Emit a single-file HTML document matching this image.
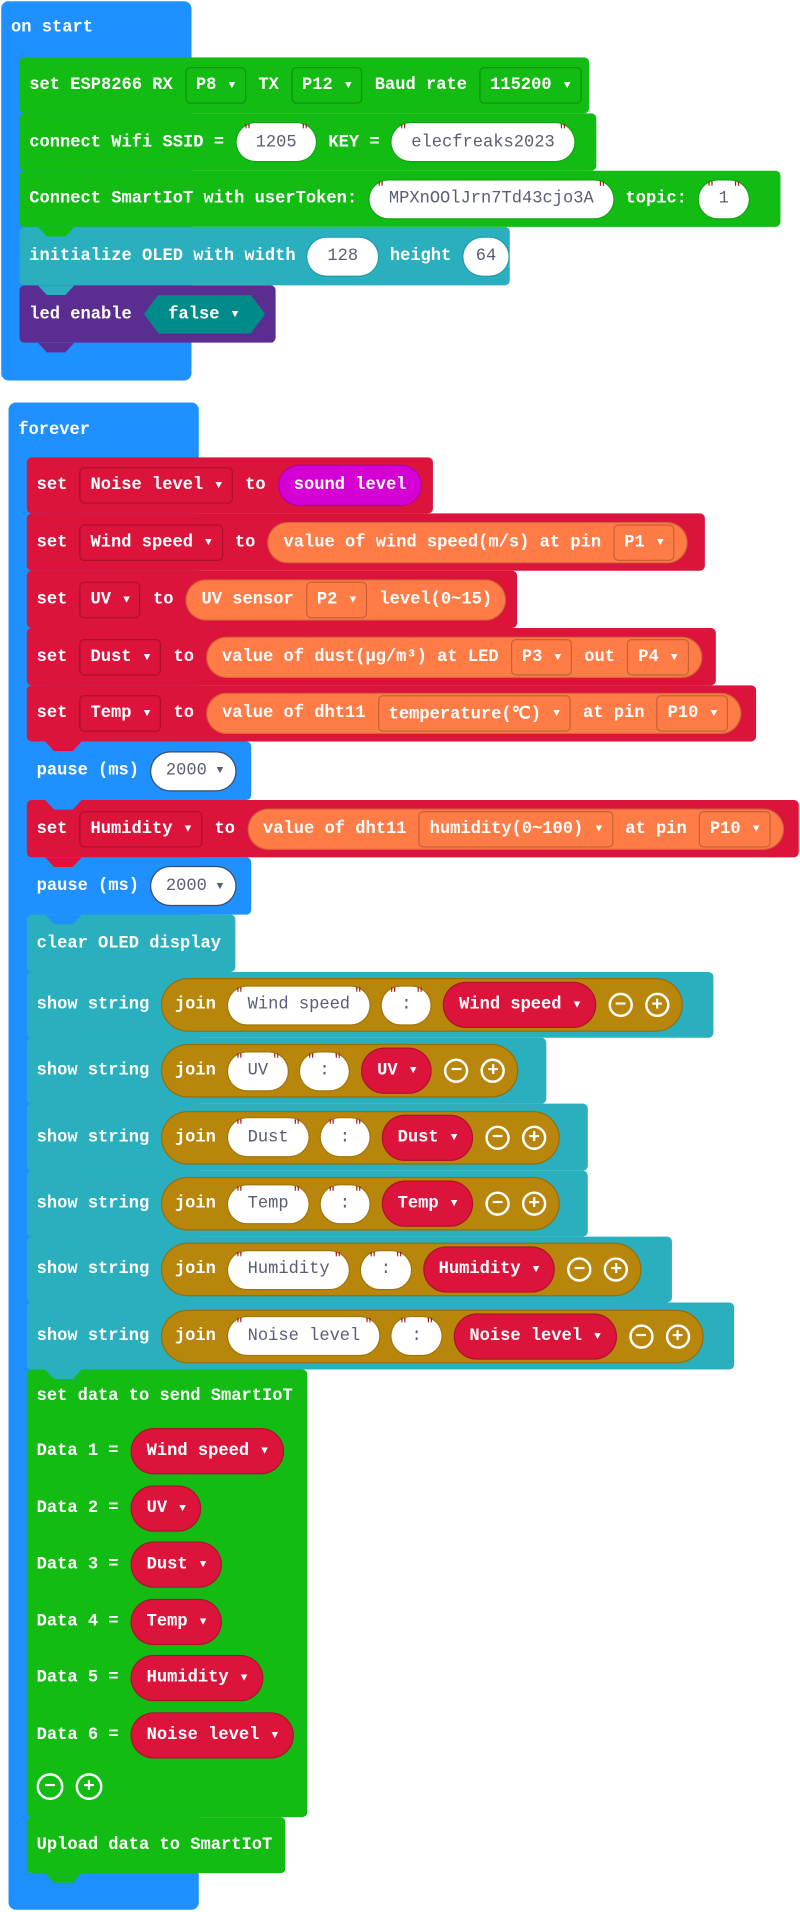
<!DOCTYPE html>
<html><head><meta charset="utf-8"><style>
html,body{margin:0;padding:0;background:#fff;width:800px;height:1912px;overflow:hidden}
#w{position:absolute;left:0;top:0;width:656px;height:1568px;transform:scale(1.219512);transform-origin:0 0}
.b{position:absolute;display:flex;align-items:center;padding-left:8px;gap:10px;color:#fff;font:bold 14px "Liberation Mono",monospace;box-sizing:border-box;border-radius:4px;white-space:nowrap}
.h{position:absolute;border-radius:6px;background:#1e90ff;color:#fff;font:bold 14px "Liberation Mono",monospace}
.dd{height:30px;border:1px solid rgba(0,0,0,.22);border-radius:4px;padding:0 8px 0 8px;display:flex;align-items:center;gap:10px;box-sizing:border-box}
.ar{font-size:9px}
.s{background:#fff;color:#575e75;border-radius:16px;height:31px;padding:0 16px;display:flex;align-items:center;position:relative;font-weight:normal;box-shadow:0 0 0 1px rgba(0,0,0,.12)}
.s.q::before{content:'"';position:absolute;left:6px;top:1px;color:#a31515;font-size:11px}
.s.q::after{content:'"';position:absolute;right:6px;top:1px;color:#a31515;font-size:11px}
.p{border-radius:20px;display:flex;align-items:center;gap:10px;padding:0 10px 0 12px;height:34px;border:1px solid rgba(0,0,0,.18);box-sizing:border-box}
.r{background:#dc143c}.o{background:#ff7c47}.g{background:#12bc12}.t{background:#29afbd}.bl{background:#1e90ff}.pu{background:#5c2d91}
.jn{background:#b8860b;border-radius:24px;height:44px;display:flex;align-items:center;gap:10px;padding:0 10px 0 10px;border:1px solid rgba(0,0,0,.18);box-sizing:border-box}
.rp{background:#dc143c;border-radius:20px;height:38px;display:flex;align-items:center;gap:10px;padding:0 12px;border:1px solid rgba(0,0,0,.2);box-sizing:border-box;color:#fff}
.ic{width:20px;height:20px;border:2px solid #fff;border-radius:50%;display:flex;align-items:center;justify-content:center;font-size:16px;line-height:1;box-sizing:border-box}
.tab{position:absolute;width:30px;height:8px;clip-path:polygon(0 0,100% 0,75% 100%,25% 100%)}
</style></head><body><div id="w">

<div class="h" style="left:1px;top:1px;width:156px;height:311px"><div style="position:absolute;left:8px;top:14px">on start</div></div>
<div class="b g" style="left:16px;top:47px;width:467px;height:46px">set ESP8266 RX<div class="dd">P8<span class="ar">▼</span></div>TX<div class="dd">P12<span class="ar">▼</span></div>Baud rate<div class="dd">115200<span class="ar">▼</span></div></div>
<div class="b g" style="left:16px;top:93px;width:473px;height:47px">connect Wifi SSID =<div class="s q">1205</div>KEY =<div class="s q">elecfreaks2023</div></div>
<div class="b g" style="left:16px;top:140px;width:624px;height:46px">Connect SmartIoT with userToken:<div class="s q">MPXnOOlJrn7Td43cjo3A</div>topic:<div class="s q">1</div></div>
<div class="b t" style="left:16px;top:186px;width:402px;height:48px">initialize OLED with width<div class="s">128</div>height<div class="s" style="padding:0 10px">64</div></div>
<div class="b pu" style="left:16px;top:234px;width:210px;height:47px">led enable<div style="background:#008b8b;height:32px;display:flex;align-items:center;padding:0 22px 0 20px;gap:10px;clip-path:polygon(12px 0,calc(100% - 12px) 0,100% 50%,calc(100% - 12px) 100%,12px 100%,0 50%)">false<span class="ar">▼</span></div></div>
<div class="tab g" style="left:31px;top:93px"></div>
<div class="tab g" style="left:31px;top:140px"></div>
<div class="tab g" style="left:31px;top:186px"></div>
<div class="tab t" style="left:31px;top:234px"></div>
<div class="tab pu" style="left:31px;top:281px"></div>

<div class="h" style="left:7px;top:330px;width:156px;height:1236px"><div style="position:absolute;left:8px;top:15px">forever</div></div>
<div class="b r" style="left:22px;top:375px;width:333px;height:46px">set<div class="dd">Noise level<span class="ar">▼</span></div>to<div class="p" style="background:#d400d4;padding:0 12px">sound level</div></div>
<div class="b r" style="left:22px;top:421px;width:556px;height:47px">set<div class="dd">Wind speed<span class="ar">▼</span></div>to<div class="p o">value of wind speed(m/s) at pin<div class="dd">P1<span class="ar">▼</span></div></div></div>
<div class="b r" style="left:22px;top:468px;width:402px;height:47px">set<div class="dd">UV<span class="ar">▼</span></div>to<div class="p o">UV sensor<div class="dd">P2<span class="ar">▼</span></div>level(0~15)</div></div>
<div class="b r" style="left:22px;top:515px;width:565px;height:47px">set<div class="dd">Dust<span class="ar">▼</span></div>to<div class="p o">value of dust(µg/m³) at LED<div class="dd">P3<span class="ar">▼</span></div>out<div class="dd">P4<span class="ar">▼</span></div></div></div>
<div class="b r" style="left:22px;top:562px;width:598px;height:46px">set<div class="dd">Temp<span class="ar">▼</span></div>to<div class="p o">value of dht11<div class="dd">temperature(℃)<span class="ar">▼</span></div>at pin<div class="dd">P10<span class="ar">▼</span></div></div></div>
<div class="b bl" style="left:22px;top:608px;width:184px;height:48px">pause (ms)<div class="s" style="padding:0 10px 0 12px;box-shadow:0 0 0 1px #3a4a6a">2000<span class="ar" style="margin-left:8px">▼</span></div></div>
<div class="b r" style="left:22px;top:656px;width:633px;height:47px">set<div class="dd">Humidity<span class="ar">▼</span></div>to<div class="p o">value of dht11<div class="dd">humidity(0~100)<span class="ar">▼</span></div>at pin<div class="dd">P10<span class="ar">▼</span></div></div></div>
<div class="b bl" style="left:22px;top:703px;width:184px;height:47px">pause (ms)<div class="s" style="padding:0 10px 0 12px;box-shadow:0 0 0 1px #3a4a6a">2000<span class="ar" style="margin-left:8px">▼</span></div></div>
<div class="b t" style="left:22px;top:750px;width:171px;height:47px">clear OLED display</div>

<div class="b t" style="left:22px;top:797px;width:563px;height:54px">show string<div class="jn">join<div class="s q">Wind speed</div><div class="s q">:</div><div class="rp">Wind speed<span class="ar">▼</span></div><div class="ic">−</div><div class="ic">+</div></div></div>
<div class="b t" style="left:22px;top:851px;width:426px;height:54px">show string<div class="jn">join<div class="s q">UV</div><div class="s q">:</div><div class="rp">UV<span class="ar">▼</span></div><div class="ic">−</div><div class="ic">+</div></div></div>
<div class="b t" style="left:22px;top:905px;width:460px;height:55px">show string<div class="jn">join<div class="s q">Dust</div><div class="s q">:</div><div class="rp">Dust<span class="ar">▼</span></div><div class="ic">−</div><div class="ic">+</div></div></div>
<div class="b t" style="left:22px;top:960px;width:460px;height:54px">show string<div class="jn">join<div class="s q">Temp</div><div class="s q">:</div><div class="rp">Temp<span class="ar">▼</span></div><div class="ic">−</div><div class="ic">+</div></div></div>
<div class="b t" style="left:22px;top:1014px;width:529px;height:54px">show string<div class="jn">join<div class="s q">Humidity</div><div class="s q">:</div><div class="rp">Humidity<span class="ar">▼</span></div><div class="ic">−</div><div class="ic">+</div></div></div>
<div class="b t" style="left:22px;top:1068px;width:580px;height:55px">show string<div class="jn">join<div class="s q">Noise level</div><div class="s q">:</div><div class="rp">Noise level<span class="ar">▼</span></div><div class="ic">−</div><div class="ic">+</div></div></div>

<div class="b g" style="left:22px;top:1123px;width:230px;height:367px;display:block;padding:0">
 <div style="position:absolute;left:8px;top:14px">set data to send SmartIoT</div>
 <div style="position:absolute;left:8px;top:48px;display:flex;align-items:center;gap:10px">Data 1 =<div class="rp">Wind speed<span class="ar">▼</span></div></div>
 <div style="position:absolute;left:8px;top:95px;display:flex;align-items:center;gap:10px">Data 2 =<div class="rp">UV<span class="ar">▼</span></div></div>
 <div style="position:absolute;left:8px;top:141px;display:flex;align-items:center;gap:10px">Data 3 =<div class="rp">Dust<span class="ar">▼</span></div></div>
 <div style="position:absolute;left:8px;top:188px;display:flex;align-items:center;gap:10px">Data 4 =<div class="rp">Temp<span class="ar">▼</span></div></div>
 <div style="position:absolute;left:8px;top:234px;display:flex;align-items:center;gap:10px">Data 5 =<div class="rp">Humidity<span class="ar">▼</span></div></div>
 <div style="position:absolute;left:8px;top:281px;display:flex;align-items:center;gap:10px">Data 6 =<div class="rp">Noise level<span class="ar">▼</span></div></div>
 <div style="position:absolute;left:8px;top:331px;display:flex;gap:10px"><div class="ic" style="width:22px;height:22px">−</div><div class="ic" style="width:22px;height:22px">+</div></div>
</div>
<div class="b g" style="left:22px;top:1490px;width:212px;height:46px">Upload data to SmartIoT</div>

<div class="tab r" style="left:37px;top:421px"></div>
<div class="tab r" style="left:37px;top:468px"></div>
<div class="tab r" style="left:37px;top:515px"></div>
<div class="tab r" style="left:37px;top:562px"></div>
<div class="tab r" style="left:37px;top:608px"></div>
<div class="tab bl" style="left:37px;top:656px"></div>
<div class="tab r" style="left:37px;top:703px"></div>
<div class="tab bl" style="left:37px;top:750px"></div>
<div class="tab t" style="left:37px;top:797px"></div>
<div class="tab t" style="left:37px;top:851px"></div>
<div class="tab t" style="left:37px;top:905px"></div>
<div class="tab t" style="left:37px;top:960px"></div>
<div class="tab t" style="left:37px;top:1014px"></div>
<div class="tab t" style="left:37px;top:1068px"></div>
<div class="tab t" style="left:37px;top:1123px"></div>
<div class="tab g" style="left:37px;top:1490px"></div>
<div class="tab g" style="left:37px;top:1536px"></div>
</div></body></html>
